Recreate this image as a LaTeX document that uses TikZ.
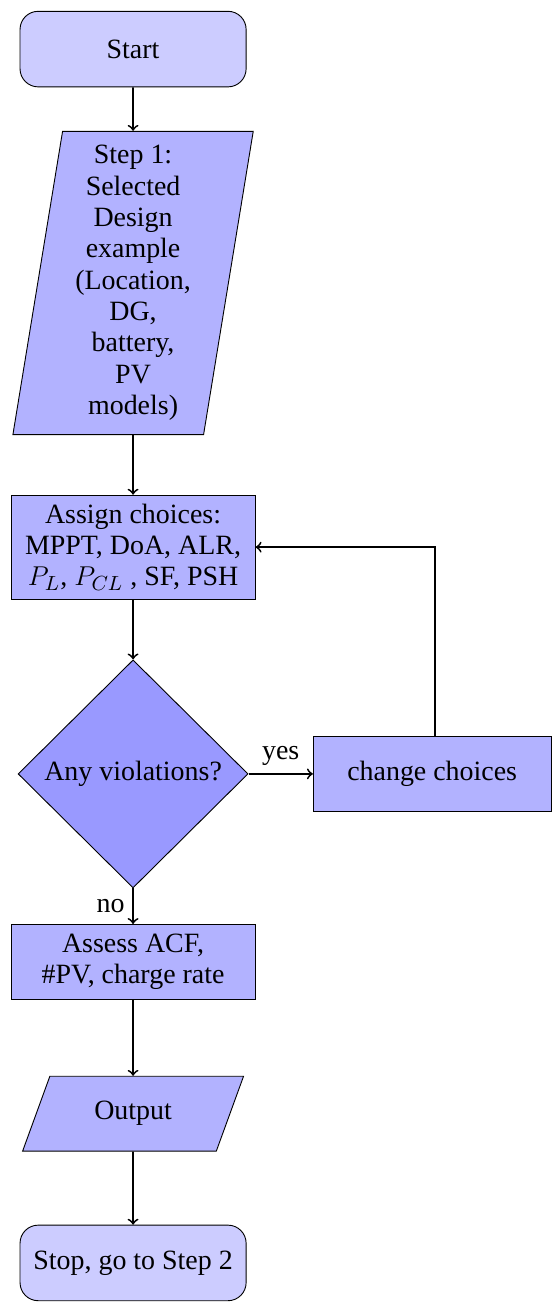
\documentclass[tikz,border=0pt]{standalone}
\usepackage{fontspec}
\setmainfont{Liberation Serif}
\usepackage{tikz}
\usetikzlibrary{shapes.geometric}

\newcommand{\boxfont}{\fontsize{12.3pt}{13.8pt}\selectfont}

\tikzset{
	startstop/.style={rectangle, rounded corners=8pt, minimum width=3.5cm, minimum height=1.17cm, draw=black, fill=blue!20, align=center, font=\boxfont},
	io/.style={trapezium, trapezium left angle=70, trapezium right angle=110, trapezium stretches body, minimum width=3.42cm, inner ysep=11.1pt, draw=black, fill=blue!30, align=center, font=\boxfont},
	process/.style={rectangle, minimum width=3.78cm, minimum height=1.16cm, draw=black, fill=blue!30, align=center, font=\boxfont},
	decision/.style={diamond, aspect=1, minimum width=3.56cm, minimum height=3.53cm, inner sep=0pt, draw=black, fill=blue!40, align=center, font=\boxfont},
	arrow/.style={thick, ->}
}

\begin{document}
\begin{tikzpicture}[every node/.style={font=\boxfont}]
	\useasboundingbox (0,0) rectangle (8.53,-20.155);
	\node[startstop] (start) at (2.06,-0.76) {Start};
	\node[io, trapezium left angle=80.7, trapezium right angle=99.3, minimum width=3.72cm, inner ysep=6.2pt] (step1) at (2.06,-4.38) {Step 1:\\ Selected\\ Design\\ example\\ (Location,\\ DG,\\ battery,\\ PV\\ models)};
	\node[process, minimum height=1.61cm] (assign) at (2.06,-8.47) {Assign choices:\\ MPPT, DoA, ALR,\\ $P_L$, $P_{CL}$ , SF, PSH};
	\node[decision] (dec) at (2.06,-11.98) {Any violations?};
	\node[process, minimum width=3.68cm, minimum height=1.15cm] (change) at (6.69,-11.98) {change choices};
	\node[process] (assess) at (2.06,-14.89) {Assess ACF,\\ \#PV, charge rate};
	\node[io] (out) at (2.06,-17.24) {Output};
	\node[startstop] (stop) at (2.06,-19.55) {Stop, go to Step 2};
	\draw[arrow] (start) -- (step1);
	\draw[arrow] (step1) -- (assign);
	\draw[arrow] (assign) -- (dec);
	\draw[arrow] (dec) -- node[above] {yes} (change);
	\draw[arrow] (dec) -- node[left] {no} (assess);
	\draw[arrow] ([xshift=0.05cm]change.north) |- (assign.east);
	\draw[arrow] (assess) -- (out);
	\draw[arrow] (out) -- (stop);
\end{tikzpicture}
\end{document}
